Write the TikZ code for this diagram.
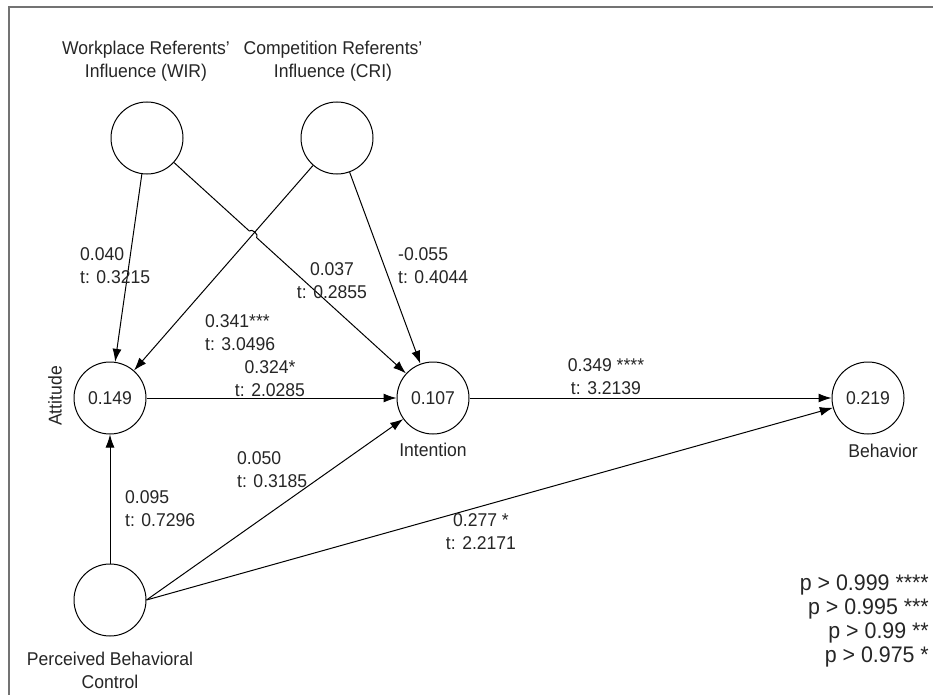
\documentclass[tikz,border=0pt]{standalone}
\usepackage{fontspec}
\setmainfont[FakeStretch=0.95]{Liberation Sans}
\usetikzlibrary{arrows.meta,calc}
\begin{document}
\begin{tikzpicture}[x=1pt,y=-1pt,
  every node/.style={font=\fontsize{18.5}{23}\selectfont, text=black!85},
  latent/.style={circle, draw=black, line width=1pt, minimum size=72pt, inner sep=0pt},
  arr/.style={draw=black, line width=1pt, -{Latex[length=13pt,width=9pt]}},
  lbl/.style={align=left, anchor=west, inner sep=0pt},
  clbl/.style={align=center, inner sep=0pt},
  frame/.style={draw=black!55, line width=2pt}]
\useasboundingbox (0,0) rectangle (933,695);
\fill[white] (0,0) rectangle (933,695);
% frame
\coordinate (f1) at (9,695);
\coordinate (f2) at (9,7);
\coordinate (f3) at (933,7);
\draw[frame] (f1) -- (f2) -- (f3);

% latent variables
\node[latent] (wir) at (147,138) {};
\node[latent] (cri) at (337,138) {};
\node[latent] (att) at (110,398) {0.149};
\node[latent] (int) at (433,398) {0.107};
\node[latent] (beh) at (868,398) {0.219};
\node[latent] (pbc) at (110,600) {};

% names
\node[clbl] (twir) at (146,61) {Workplace Referents'\\Influence (WIR)};
\node[clbl] (tcri) at (333,61) {Competition Referents'\\Influence (CRI)};
\node[clbl, rotate=90] (tatt) at (55,396) {Attitude};
\node[clbl] (tint) at (433,450) {Intention};
\node[clbl] (tbeh) at (883,451) {Behavior};
\node[clbl] (tpbc) at (110,670) {Perceived Behavioral\\Control};

% paths
\draw[arr] (wir) -- (att);
\draw[arr] (cri) -- (att);
\coordinate (X) at (intersection of wir--int and cri--att);
\draw[arr] (wir) -- ($(X)!5pt!(wir)$) to[bend left=90] ($(X)!5pt!(int)$) -- (int);
\draw[arr] (cri) -- (int);
\draw[arr] (att) -- (int);
\draw[arr] (int) -- (beh);
\draw[arr] (pbc) -- (att);
\draw[arr] (pbc.east) -- (int);
\draw[arr] (pbc.east) -- (beh);

% coefficients
\node[lbl] (l1) at (80,266) {0.040\\t: 0.3215};
\node[clbl] (l2) at (332,281) {0.037\\t: 0.2855};
\node[lbl] (l3) at (398,266) {-0.055\\t: 0.4044};
\node[lbl] (l4) at (205,333) {0.341***\\t: 3.0496};
\node[clbl] (l5) at (270,379) {0.324*\\t: 2.0285};
\node[clbl] (l6) at (606,377) {0.349 ****\\t: 3.2139};
\node[lbl] (l7) at (237,470) {0.050\\t: 0.3185};
\node[lbl] (l8) at (125,509) {0.095\\t: 0.7296};
\node[clbl] (l9) at (481,532) {0.277 *\\t: 2.2171};

% legend
\node[align=right, anchor=east, inner sep=0pt, font=\fontsize{22.5}{23.7}\selectfont] (leg) at (929,621)
  {p > 0.999 ****\\p > 0.995 ***\\p > 0.99 **\\p > 0.975 *};
\end{tikzpicture}
\end{document}
